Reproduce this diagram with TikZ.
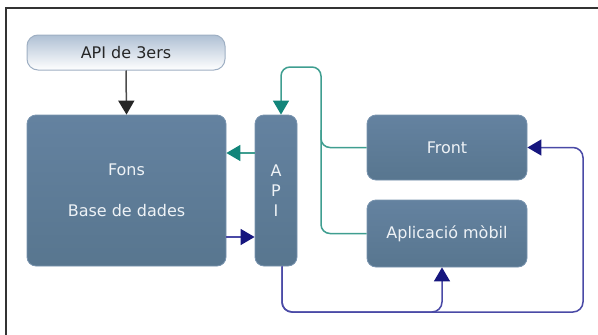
\documentclass[tikz,border=0pt]{standalone}
\usepackage{fontspec}
\setmainfont{DejaVu Sans}
\usetikzlibrary{arrows.meta}
\definecolor{boxtop}{HTML}{6482A0}
\definecolor{boxbot}{HTML}{58768F}
\definecolor{boxedge}{HTML}{7893AE}
\definecolor{boxtext}{HTML}{EEF2F6}
\definecolor{tealline}{HTML}{3F9E90}
\definecolor{tealhead}{HTML}{12857A}
\definecolor{navyline}{HTML}{4A4AA6}
\definecolor{navyhead}{HTML}{16167E}
\definecolor{pilltop}{HTML}{AFC0D4}
\definecolor{pilledge}{HTML}{9EAFC3}
\tikzset{
  bluebox/.style={draw=boxedge, line width=0.8pt, top color=boxtop, bottom color=boxbot,
    rounded corners=9pt, text=boxtext, font=\fontsize{16}{19}\selectfont, align=center, inner sep=0pt},
  pillbox/.style={draw=pilledge, line width=1pt, top color=pilltop, bottom color=white,
    rounded corners=11pt, text=black!85, font=\fontsize{16}{19}\selectfont, inner sep=0pt},
  tealc/.style={draw=tealline, line width=1.5pt, -{Triangle[length=14pt,width=16pt,color=tealhead]}},
  tealplain/.style={draw=tealline, line width=1.5pt},
  navyc/.style={draw=navyline, line width=1.5pt, -{Triangle[length=14pt,width=16pt,color=navyhead]}},
  blackc/.style={draw=black!70, line width=1.5pt, -{Triangle[length=14pt,width=16pt,color=black!85]}},
}
\begin{document}
\begin{tikzpicture}[x=1pt,y=-1pt]
\useasboundingbox (0,0) rectangle (598,335);
\draw[black!80, line width=1.4pt] (598,8) -- (6,8) -- (6,335);

\node[pillbox, minimum width=198pt, minimum height=35pt] (third) at (126,52.5) {API de 3ers};
\node[bluebox, minimum width=199pt, minimum height=151pt, font=\fontsize{16}{41}\selectfont] (fons) at (126.5,190.5) {Fons\\Base de dades};
\node[bluebox, minimum width=42pt, minimum height=151pt, font=\fontsize{16}{20}\selectfont] (api) at (276,190.5) {A\\P\\I};
\node[bluebox, minimum width=160pt, minimum height=65pt] (front) at (447,147.5) {Front};
\node[bluebox, minimum width=160pt, minimum height=67pt] (mob) at (447,233.5) {Aplicació mòbil};

\draw[blackc] (third.south) -- (fons.north);

\coordinate (tR) at (321,67);
\coordinate (tL) at (281,67);
\coordinate (tM) at (321,130);
\draw[tealc, rounded corners=9pt] (front.west) -| (tR) -- (tL) -- (tL |- api.north);
\draw[tealplain, rounded corners=9pt] (mob.west) -| (tM);
\draw[tealc] ([yshift=37.5pt]api.west) -- ([yshift=37.5pt]fons.east);
\draw[navyc] ([yshift=-46.5pt]fons.east) -- ([yshift=-46.5pt]api.west);

\coordinate (bR) at (583,312);
\coordinate (mB) at ([xshift=-5pt]mob.south);
\coordinate (aS) at ([xshift=6pt]api.south);
\draw[navyc, rounded corners=10pt] (aS) |- (bR) |- (front.east);
\draw[navyc, rounded corners=10pt] (aS) |- (mB |- bR) -- (mB);
\end{tikzpicture}
\end{document}
